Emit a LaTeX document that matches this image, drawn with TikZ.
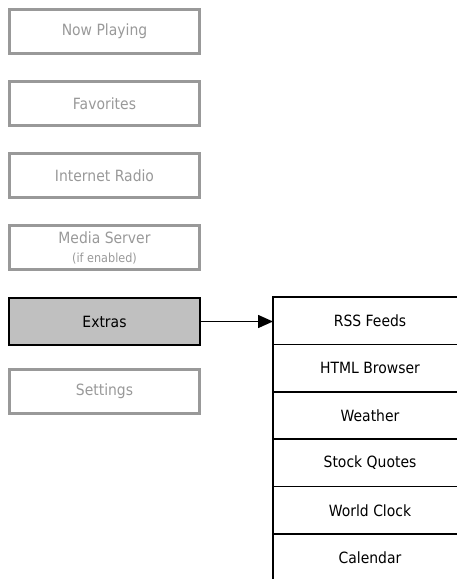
\documentclass[tikz,border=0pt]{standalone}
\usepackage{fontspec}
\setmainfont{DejaVu Sans}[FakeStretch=0.9]
\usetikzlibrary{arrows.meta}
\definecolor{menugray}{HTML}{999999}
\definecolor{selfill}{HTML}{C0C0C0}
\tikzset{
  menubox/.style={draw=menugray, line width=3pt, text=menugray, minimum width=190pt, minimum height=44pt, inner sep=0pt, align=center, font=\fontsize{15.5}{18}\selectfont},
  selbox/.style={draw=black, fill=selfill, line width=2pt, text=black, minimum width=191pt, minimum height=47pt, inner sep=0pt, font=\fontsize{15.5}{18}\selectfont},
  subbox/.style={draw=black, line width=1.6pt, outer sep=0pt, text=black, minimum width=194pt, minimum height=47.4pt, inner sep=0pt, font=\fontsize{15.5}{18}\selectfont},
  link/.style={line width=1.5pt, -{Triangle[length=15pt,width=13pt]}}
}
\begin{document}
\begin{tikzpicture}[x=1pt,y=-1pt]
\useasboundingbox (0,0) rectangle (457,579);
\clip (0,0) rectangle (457,579);
\node[menubox] (now) at (104.5,31.5) {Now Playing};
\node[menubox] (fav) at (104.5,103.5) {Favorites};
\node[menubox] (radio) at (104.5,175.5) {Internet Radio};
\node[menubox] (media) at (104.5,247.5) {Media Server\\[1pt]{\fontsize{12.5}{14}\selectfont (if enabled)}};
\node[selbox] (extras) at (104.5,321.5) {Extras};
\node[menubox] (settings) at (104.5,391.5) {Settings};
\node[subbox, anchor=north west] (rss) at (273,297) {RSS Feeds};
\node[subbox, anchor=north] (html) at (rss.south) {HTML Browser};
\node[subbox, anchor=north] (weather) at (html.south) {Weather};
\node[subbox, anchor=north] (stock) at (weather.south) {Stock Quotes};
\node[subbox, anchor=north] (clock) at (stock.south) {World Clock};
\node[subbox, anchor=north] (cal) at (clock.south) {Calendar};
\draw[link] (extras.east) -- (extras.east -| rss.west);
\end{tikzpicture}
\end{document}
